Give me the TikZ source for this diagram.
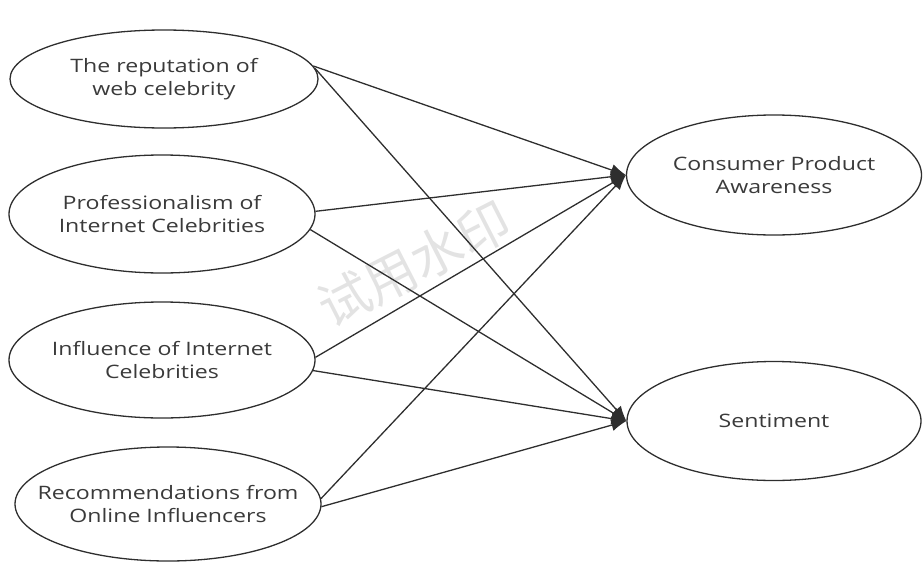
\documentclass[tikz,border=0pt]{standalone}
\usepackage{fontspec}
\setmainfont{Open Sans}[FakeStretch=1.25]
\newfontfamily\cjk{Noto Sans CJK SC}
\usepackage{xcolor}
\usepackage{tikz}
\usetikzlibrary{shapes,arrows.meta,positioning}
\definecolor{linegray}{HTML}{2E2E2E}
\definecolor{textgray}{HTML}{3A3A3A}
\tikzstyle{arrow} = [line width=1.3pt,draw=linegray,-{Latex[length=15pt,width=12pt]}]
\tikzstyle{factor} = [draw=linegray,line width=1.3pt,ellipse,inner ysep=0pt,inner xsep=-40pt,
  align=center,text=textgray,font=\fontsize{18.5}{23}\selectfont]

\begin{document}
\begin{tikzpicture}[x=1pt,y=-1pt]
        \useasboundingbox (0,0) rectangle (923,562);

        % watermark
        \node[rotate=27,text=black!11,font=\cjk\fontsize{52}{52}\selectfont] (mark) at (414,264) {试用水印};

        % Define nodes
        \node[factor,
        minimum width=308pt,
        minimum height=98pt] (rep) at (164,79) {The reputation of\\web celebrity};

        \node[factor,
        minimum width=306pt,
        minimum height=118pt] (prof) at (162,214) {Professionalism of\\Internet Celebrities};

        \node[factor,
        minimum width=306pt,
        minimum height=116pt] (infl) at (162,360) {Influence of Internet\\Celebrities};

        \node[factor,
        minimum width=306pt,
        minimum height=114pt] (rec) at (168,504) {Recommendations from\\Online Influencers};

        \node[factor,
        minimum width=295pt,
        minimum height=120pt] (cpa) at (774,175) {Consumer Product\\Awareness};

        \node[factor,
        minimum width=294pt,
        minimum height=119pt] (sent) at (774,421) {Sentiment};

        \draw [arrow] (rep.5) -- (cpa.west);
        \draw [arrow] (rep.4) -- (sent.west);
        \draw [arrow] (prof.1) -- (cpa.west);
        \draw [arrow] (prof.-6) -- (sent.west);
        \draw [arrow] (infl.1) -- (cpa.west);
        \draw [arrow] (infl.-4) -- (sent.west);
        \draw [arrow] (rec.2) -- (cpa.west);
        \draw [arrow] (rec.-1) -- (sent.west);

\end{tikzpicture}
\end{document}
